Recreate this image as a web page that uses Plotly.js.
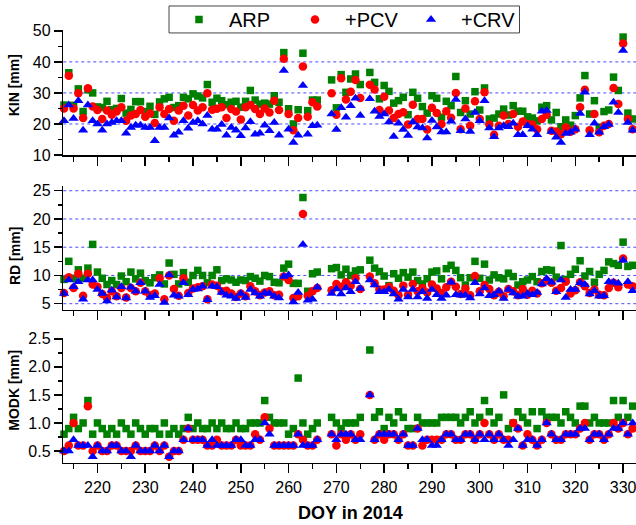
<!DOCTYPE html>
<html><head><meta charset="utf-8">
<script src="https://cdn.plot.ly/plotly-3.0.1.min.js"></script>
<style>html,body{margin:0;padding:0;background:#fff}#chart{width:636px;height:525px}</style>
</head><body><div id="chart"></div>
<script>
// Day of year 2014 (days 267, 268, 276 have no solution)
const days = [
 213,214,215,216,217,218,219,220,221,222,
 223,224,225,226,227,228,229,230,231,232,
 233,234,235,236,237,238,239,240,241,242,
 243,244,245,246,247,248,249,250,251,252,
 253,254,255,256,257,258,259,260,261,262,
 263,264,265,266,269,270,271,272,273,274,
 275,277,278,279,280,281,282,283,284,285,
 286,287,288,289,290,291,292,293,294,295,
 296,297,298,299,300,301,302,303,304,305,
 306,307,308,309,310,311,312,313,314,315,
 316,317,318,319,320,321,322,323,324,325,
 326,327,328,329,330,331,332];

const seriesNames = ['ARP', '+PCV', '+CRV'];
const panelTitles = ['KIN [mm]', 'RD [mm]', 'MODK [mm]'];
const xTitle = 'DOY in 2014';

const kinARP = [
 26.1,36.5,26.0,31.3,24.0,31.0,30.0,25.5,25.3,27.3,
 24.6,25.0,28.2,23.5,24.7,27.2,27.2,24.0,25.7,23.1,
 27.1,28.1,28.6,25.3,25.9,28.6,28.1,29.7,29.0,28.4,
 32.7,27.0,28.3,27.5,26.2,27.0,27.3,25.4,27.3,30.8,
 27.7,26.4,26.7,26.4,29.1,27.0,43.0,24.9,20.0,24.6,
 42.8,24.3,27.7,27.7,34.2,25.2,35.9,30.2,34.5,36.1,
 32.7,36.6,33.4,28.1,32.4,30.5,26.7,27.5,28.6,23.0,
 30.2,28.3,25.6,23.5,29.1,28.3,22.2,27.3,25.9,35.3,
 23.7,27.5,23.2,30.4,24.5,31.6,21.6,21.9,23.2,24.8,
 22.9,25.9,24.1,24.1,22.3,21.9,21.0,25.4,25.9,21.3,
 23.7,19.1,21.3,19.6,22.7,28.4,35.6,23.2,27.5,18.9,
 24.0,24.5,35.1,30.8,48.0,23.5,21.6];
const kinPCV = [
 25.0,35.5,25.0,29.9,21.9,31.5,25.6,24.5,21.6,24.3,
 23.0,24.0,25.4,21.0,22.7,23.2,24.5,22.3,23.4,20.3,
 25.4,23.2,24.8,21.0,24.3,25.9,22.7,26.1,24.3,25.4,
 29.9,24.6,24.9,25.4,21.9,24.8,24.0,21.4,25.4,26.1,
 24.8,23.2,25.0,23.7,27.5,24.5,41.0,23.2,18.0,21.9,
 38.5,22.3,27.0,25.6,29.9,23.0,34.7,27.9,30.4,34.2,
 28.4,32.6,31.1,24.5,28.8,24.3,21.9,23.2,23.8,19.8,
 26.2,21.6,21.6,18.2,25.2,23.5,20.0,24.1,22.0,30.0,
 18.3,25.0,19.4,27.3,21.6,30.2,19.8,16.5,19.4,22.7,
 20.0,23.2,19.1,20.8,20.0,19.8,18.3,21.6,23.0,17.8,
 17.6,16.7,18.9,17.5,18.3,25.4,31.0,18.0,23.2,17.3,
 19.4,20.0,31.6,26.4,45.9,21.6,18.3];
const kinCRV = [
 21.0,26.1,21.8,27.5,18.0,26.1,21.0,20.0,18.0,20.0,
 20.5,21.0,21.0,17.0,18.9,19.6,19.6,18.9,18.9,14.6,
 18.9,18.9,21.9,16.4,17.3,21.0,18.6,20.5,21.0,20.0,
 22.7,18.3,18.3,19.8,16.4,18.9,18.0,16.2,18.7,20.7,
 16.7,17.0,19.6,17.8,20.5,16.4,37.2,18.3,14.0,16.4,
 32.4,16.7,19.4,19.6,23.2,18.2,25.2,22.2,25.9,28.3,
 22.7,28.1,24.1,22.4,23.2,20.6,16.0,20.2,18.2,16.3,
 20.6,19.0,18.7,15.5,21.1,19.0,17.4,17.4,20.9,27.9,
 17.8,21.6,17.6,23.7,21.0,27.5,18.7,15.9,18.7,19.4,
 19.1,20.2,16.5,16.5,19.4,18.3,16.5,24.1,24.3,17.6,
 15.7,14.0,16.9,17.3,18.3,23.4,30.2,16.5,20.2,17.3,
 19.1,19.8,27.0,23.7,43.7,20.5,18.0];

const rdARP = [
 9.3,12.5,9.5,11.0,9.5,11.3,15.5,10.6,9.5,8.4,
 9.1,8.4,9.9,8.9,10.6,9.4,10.4,9.1,8.7,9.6,
 10.1,8.5,12.2,10.2,8.5,10.5,8.8,10.0,10.9,10.0,
 8.7,10.0,11.0,9.1,9.4,9.2,8.8,9.2,9.1,9.8,
 9.5,9.0,10.0,9.8,8.8,8.7,11.3,12.0,8.6,8.6,
 23.8,7.2,10.3,10.6,11.2,11.4,10.1,11.1,10.0,10.8,
 11.0,12.7,11.3,10.7,9.9,8.2,10.3,9.5,10.5,9.7,
 10.6,9.1,8.5,9.4,10.6,10.8,9.4,11.2,11.8,10.9,
 9.6,8.3,9.6,12.5,9.5,12.0,9.2,10.1,9.6,9.4,
 10.4,9.8,8.3,8.9,9.2,9.8,8.9,10.7,11.0,10.9,
 9.7,15.3,9.3,10.2,11.1,12.6,9.9,10.7,8.8,10.2,
 10.9,12.4,12.1,11.8,15.9,11.6,11.8];
const rdPCV = [
 6.9,9.7,7.8,10.3,6.4,10.3,8.4,8.0,6.7,6.0,
 7.2,6.3,7.8,6.1,7.8,7.2,8.7,7.2,6.5,6.8,
 9.5,5.8,10.0,7.6,6.4,9.5,6.9,7.7,7.9,8.1,
 5.8,8.4,8.2,7.2,7.3,6.8,6.2,6.8,6.3,8.1,
 7.2,6.5,7.0,7.2,6.5,6.6,9.8,9.2,6.0,6.3,
 20.9,6.4,7.2,7.8,7.4,8.5,8.0,8.8,8.2,9.5,
 7.6,9.8,8.6,7.5,7.5,8.0,7.3,6.5,8.2,6.6,
 8.5,7.2,7.8,7.0,8.4,7.7,6.9,7.9,8.9,8.0,
 6.7,7.7,6.5,9.9,7.2,8.3,7.6,6.5,7.1,6.3,
 7.6,7.2,6.5,7.6,6.6,7.3,6.8,8.6,9.1,8.7,
 7.3,7.8,8.9,6.8,7.4,8.8,8.1,6.9,7.5,6.6,
 6.5,7.8,8.7,7.9,13.0,8.4,8.1];
const rdCRV = [
 6.8,9.2,8.0,8.9,5.8,9.2,9.2,7.5,6.8,5.5,
 7.4,6.2,8.0,6.0,7.9,7.2,8.7,7.2,6.1,6.4,
 8.4,5.2,10.1,6.5,6.3,8.7,6.6,7.5,7.6,8.1,
 5.7,8.1,8.0,7.0,6.5,6.3,5.9,6.8,6.1,7.5,
 6.9,6.3,6.9,6.8,6.3,6.0,9.8,10.1,5.3,7.0,
 15.5,5.6,5.8,7.9,6.8,7.6,6.7,7.8,7.1,8.9,
 7.7,9.2,8.3,7.1,7.1,7.5,6.7,5.8,7.5,6.2,
 7.5,6.2,7.1,5.9,7.5,6.6,5.9,6.5,8.8,6.6,
 6.5,6.5,6.0,8.7,6.7,7.8,6.4,6.6,7.2,5.9,
 7.5,6.9,6.3,6.3,6.8,6.6,7.0,8.5,9.4,8.8,
 7.1,9.2,6.1,7.5,7.5,8.7,8.4,6.7,7.3,6.3,
 6.4,8.9,8.8,8.6,12.7,8.9,7.3];

const modkARP = [
 0.8,0.9,1.1,0.9,1.0,1.4,0.8,1.0,0.9,0.8,
 0.9,0.8,1.0,0.9,0.8,1.0,0.9,0.8,0.9,0.9,
 0.8,1.0,0.8,0.9,0.8,0.9,1.1,0.9,1.0,0.9,
 0.9,1.0,0.9,1.0,0.9,0.9,1.0,0.9,0.9,1.0,
 1.0,1.0,1.4,1.1,1.0,1.0,1.0,0.8,0.9,1.8,
 1.0,0.8,0.9,1.0,1.1,1.0,0.9,1.0,1.0,1.0,
 1.1,2.3,1.1,1.2,0.9,1.1,1.0,1.2,1.1,0.9,
 0.9,1.1,1.0,1.0,1.0,1.0,1.1,1.1,1.1,1.1,
 1.0,1.1,1.2,1.0,1.1,1.4,1.2,1.0,1.1,1.5,
 0.9,1.0,1.2,1.1,1.0,1.2,0.9,1.2,1.1,1.1,
 1.1,1.0,1.2,1.1,1.0,1.3,1.3,1.0,1.1,1.0,
 1.0,1.0,1.4,1.1,1.4,1.1,1.3];
const modkPCV = [
 0.5,0.6,1.0,0.6,0.6,1.3,0.5,0.6,0.5,0.5,
 0.6,0.6,0.5,0.5,0.5,0.6,0.5,0.5,0.5,0.6,
 0.5,0.6,0.4,0.5,0.5,0.7,0.9,0.7,0.7,0.7,
 0.6,0.6,0.7,0.6,0.6,0.6,0.7,0.6,0.6,0.6,
 0.8,0.7,1.1,0.9,0.6,0.6,0.6,0.6,0.6,0.8,
 0.7,0.6,0.6,0.7,0.8,0.6,0.8,0.7,0.8,0.7,
 0.8,1.5,0.7,0.8,0.7,0.8,0.8,0.7,0.8,0.6,
 0.6,0.9,0.6,0.7,0.7,0.7,0.7,0.8,0.8,0.7,
 0.7,0.8,0.8,0.7,0.8,1.0,0.8,0.7,0.8,0.7,
 0.7,1.0,0.9,0.6,0.8,0.7,0.6,0.7,1.0,0.8,
 0.7,0.7,0.8,0.8,0.8,0.9,1.0,0.7,0.8,0.8,
 0.7,0.8,1.0,0.9,1.0,0.8,0.9];
const modkCRV = [
 0.5,0.5,0.7,0.6,0.6,0.6,0.4,0.6,0.5,0.5,
 0.6,0.6,0.5,0.5,0.4,0.6,0.5,0.5,0.5,0.6,
 0.5,0.6,0.4,0.5,0.5,0.7,0.9,0.7,0.7,0.7,
 0.6,0.7,0.6,0.6,0.6,0.6,0.7,0.7,0.6,0.6,
 0.7,0.7,1.0,0.8,0.6,0.6,0.6,0.6,0.6,0.8,
 0.6,0.6,0.6,0.7,0.8,0.7,0.8,0.8,0.8,0.7,
 0.7,1.5,0.7,0.8,0.8,0.8,0.8,0.7,0.8,0.6,
 0.6,0.9,0.7,0.7,0.6,0.6,0.7,0.8,0.8,0.7,
 0.7,0.8,0.8,0.7,0.8,0.7,0.8,0.7,0.8,0.7,
 0.6,0.7,0.9,0.6,0.7,0.7,0.6,0.7,1.0,0.8,
 0.7,0.7,0.8,0.8,0.8,0.9,0.9,0.7,0.8,0.8,
 0.7,0.8,0.9,0.9,1.0,0.8,1.0];

const kinGrid = [20, 30, 40];
const rdGrid = [5, 10, 15, 20, 25];

// ---------- drawing ----------
const FONT = 'Liberation Sans, Arial, sans-serif';
const styles = [
  {symbol: 'square', color: '#008000', size: 7.5},
  {symbol: 'circle', color: '#ff0000', size: 8.5},
  {symbol: 'triangle-up', color: '#0000ff', size: 9}
];
const panels = [
  {xa: 'x', ya: 'y', data: [kinARP, kinPCV, kinCRV]},
  {xa: 'x2', ya: 'y2', data: [rdARP, rdPCV, rdCRV]},
  {xa: 'x3', ya: 'y3', data: [modkARP, modkPCV, modkCRV]}
];
const traces = [];
panels.forEach((p, pi) => {
  p.data.forEach((vals, si) => {
    traces.push({
      type: 'scatter', mode: 'markers', x: days, y: vals,
      xaxis: p.xa, yaxis: p.ya, name: seriesNames[si],
      showlegend: pi === 0, legendgroup: seriesNames[si],
      marker: {symbol: styles[si].symbol, color: styles[si].color, size: styles[si].size, line: {width: 0}},
      cliponaxis: false
    });
  });
});

const xRange = [212.85, 332.7];
const xDomain = [0.0995, 1];
function xAxis(anchor, labels) {
  return {
    domain: xDomain, anchor: anchor, range: xRange, tick0: 0, dtick: 10,
    ticks: 'outside', ticklen: 9, tickwidth: 1.5, tickcolor: '#000',
    showticklabels: labels, ticklabeloverflow: 'allow',
    tickfont: {family: FONT, size: 16, color: '#000'},
    showline: true, linewidth: 1.5, linecolor: '#000', showgrid: false, zeroline: false,
    automargin: false, fixedrange: true,
    minor: {dtick: 5, ticks: 'outside', ticklen: 5, tickwidth: 1.5, tickcolor: '#000', showgrid: false}
  };
}
function yAxis(anchor, domain, range, dtick, mdtick, fmt) {
  return {
    domain: domain, anchor: anchor, range: range, tick0: 0, dtick: dtick, tickformat: fmt,
    ticks: 'outside', ticklen: 8, tickwidth: 1.5, tickcolor: '#000',
    tickfont: {family: FONT, size: 16, color: '#000'}, ticklabeloverflow: 'allow',
    showline: true, linewidth: 1.5, linecolor: '#000', showgrid: false, zeroline: false,
    automargin: false, fixedrange: true,
    minor: {dtick: mdtick, ticks: 'outside', ticklen: 4, tickwidth: 1.5, tickcolor: '#000', showgrid: false}
  };
}

const shapes = [];
function addGrid(vals, xref, yref) {
  vals.forEach(v => shapes.push({
    type: 'line', xref: xref + ' domain', yref: yref, x0: 0, x1: 1, y0: v, y1: v,
    line: {color: 'rgba(40,40,255,0.85)', width: 1, dash: 'dot'}, layer: 'below'
  }));
}
addGrid(kinGrid, 'x', 'y');
addGrid(rdGrid, 'x2', 'y2');
// legend frame
shapes.push({
  type: 'rect', xref: 'paper', yref: 'paper',
  x0: 169 / 636, x1: 519.5 / 636, y0: 1 - 32 / 525, y1: 1 - 5 / 525,
  line: {color: '#444', width: 1}, fillcolor: 'rgba(255,255,255,0)', layer: 'above'
});

const annotations = [
  {text: panelTitles[0], x: 13.5/636, y: 1 - 85/525},
  {text: panelTitles[1], x: 14.5/636, y: 1 - 256/525},
  {text: panelTitles[2], x: 14.5/636, y: 1 - 390/525}
].map(a => ({
  text: a.text, xref: 'paper', yref: 'paper', x: a.x, y: a.y, textangle: -90,
  showarrow: false, xanchor: 'center', yanchor: 'middle',
  font: {family: FONT, size: 14, color: '#000', weight: 'bold'}
}));
annotations.push({
  text: xTitle, xref: 'paper', yref: 'paper', x: 350/636, y: 1 - 513/525,
  showarrow: false, xanchor: 'center', yanchor: 'middle',
  font: {family: FONT, size: 18, color: '#000', weight: 'bold'}
});

const layout = {
  width: 636, height: 525,
  margin: {l: 0, r: 0, t: 0, b: 0},
  paper_bgcolor: '#fff', plot_bgcolor: '#fff',
  font: {family: FONT, color: '#000'},
  xaxis: xAxis('y', false),
  xaxis2: xAxis('y2', false),
  xaxis3: xAxis('y3', true),
  yaxis: yAxis('x', [0.7061, 0.9442], [10, 50.2], 10, 5),
  yaxis2: yAxis('x2', [0.4109, 0.6476], [3.94, 25.9], 5, 2.5),
  yaxis3: yAxis('x3', [0.1187, 0.3575], [0.29, 2.52], 0.5, 0.25, '.1f'),
  shapes: shapes,
  annotations: annotations,
  showlegend: true,
  legend: {
    orientation: 'h', x: 169/636, y: 1 + 1/525, xanchor: 'left', yanchor: 'top',
    bgcolor: 'rgba(255,255,255,0)', borderwidth: 0,
    font: {family: FONT, size: 20, color: '#000'},
    itemwidth: 50, entrywidth: 51, itemclick: false, itemdoubleclick: false
  }
};

Plotly.newPlot('chart', traces, layout, {staticPlot: true, displayModeBar: false});
</script>
</body></html>
